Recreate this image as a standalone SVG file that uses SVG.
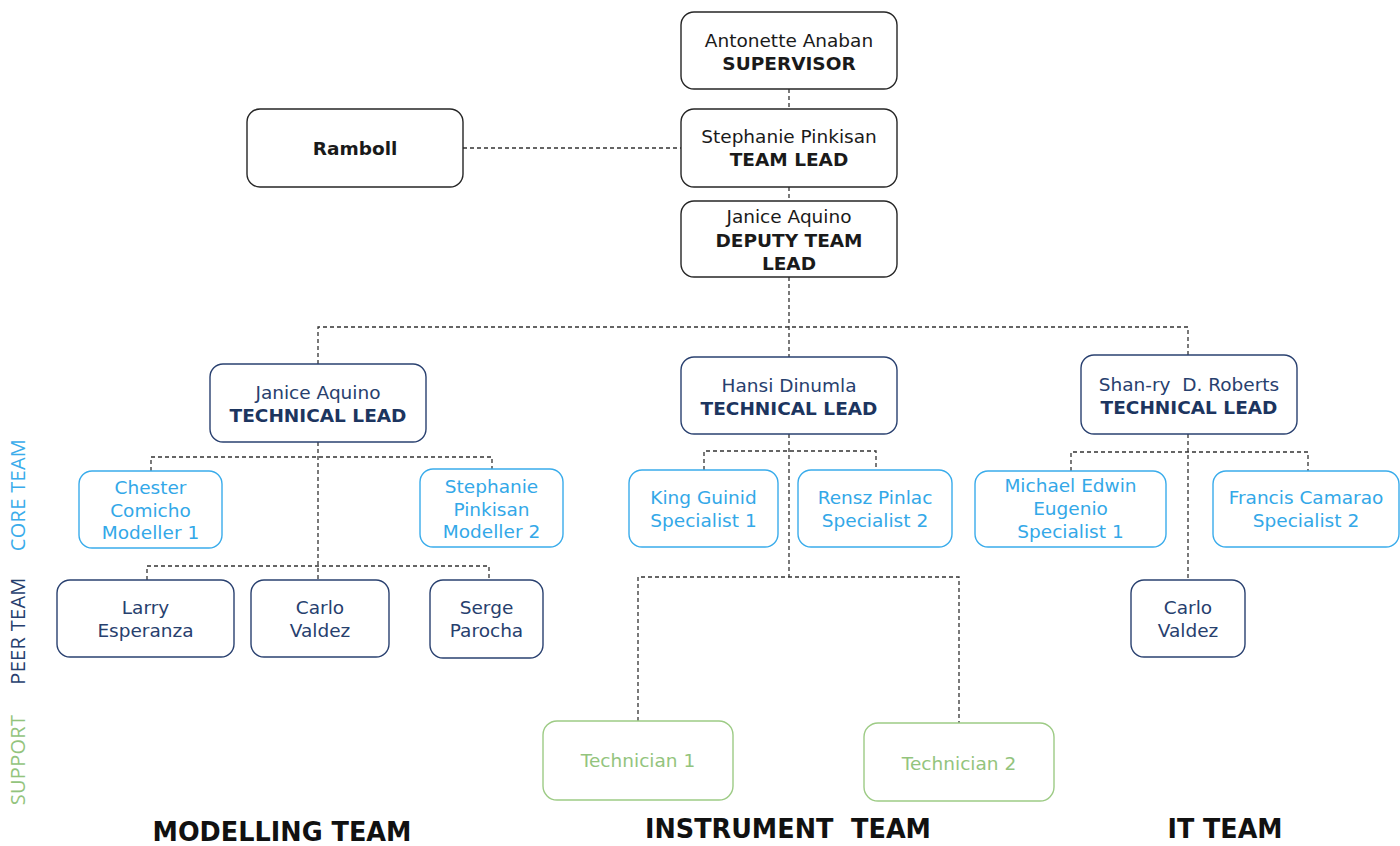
<svg xmlns="http://www.w3.org/2000/svg" width="1400" height="846" viewBox="0 0 1400 846">
  <style>
    .box { fill: #ffffff; stroke-width: 1.4; }
    .top { stroke: #262626; }
    .lead { stroke: #2a4170; }
    .core { stroke: #3aaceb; }
    .peer { stroke: #2a4170; }
    .sup { stroke: #9dcb85; }
    text { font-family: "DejaVu Sans", Verdana, sans-serif; font-size: 18.5px; text-anchor: middle; }
    .t-top { fill: #1a1a1a; }
    .t-lead { fill: #27406e; }
    .t-core { fill: #33a8e8; }
    .t-peer { fill: #27406e; }
    .t-sup { fill: #93c47d; }
    .b { font-weight: bold; }
    .lead-b { font-weight: bold; fill: #1c355f; }
    .conn { fill: none; stroke: #333333; stroke-width: 1.3; stroke-dasharray: 4 3; }
    .side { font-family: "Open Sans", "DejaVu Sans", sans-serif; font-size: 20px; font-weight: 400; letter-spacing: 0.3px; }
    .team { font-family: "DejaVu Sans", sans-serif; font-size: 26px; font-weight: bold; fill: #111111; }
  </style>

  <!-- connectors -->
  <g id="connectors">
    <path class="conn" d="M789 89 V109"/>
    <path class="conn" d="M789 187 V201"/>
    <path class="conn" d="M463 148 H681"/>
    <path class="conn" d="M789 277 V357"/>
    <path class="conn" d="M318 364 V327 H1188 V355"/>
    <path class="conn" d="M318 442 V580"/>
    <path class="conn" d="M151 471 V457 H492 V469"/>
    <path class="conn" d="M147 580 V566 H489 V580"/>
    <path class="conn" d="M789 434 V577"/>
    <path class="conn" d="M704 470 V451 H876 V470"/>
    <path class="conn" d="M638 721 V577 H959 V723"/>
    <path class="conn" d="M1188 434 V580"/>
    <path class="conn" d="M1071 471 V452 H1308 V471"/>
  </g>

  <!-- management -->
  <g id="supervisor">
    <rect class="box top" x="681" y="12" width="216" height="77" rx="13"/>
    <text class="t-top" x="789" y="47">Antonette Anaban</text>
    <text class="t-top b" x="789" y="70">SUPERVISOR</text>
  </g>
  <g id="ramboll">
    <rect class="box top" x="247" y="109" width="216" height="78" rx="13"/>
    <text class="t-top b" x="355" y="155">Ramboll</text>
  </g>
  <g id="team-lead">
    <rect class="box top" x="681" y="109" width="216" height="78" rx="13"/>
    <text class="t-top" x="789" y="143">Stephanie Pinkisan</text>
    <text class="t-top b" x="789" y="166">TEAM LEAD</text>
  </g>
  <g id="deputy-team-lead">
    <rect class="box top" x="681" y="201" width="216" height="76" rx="13"/>
    <text class="t-top" x="789" y="223">Janice Aquino</text>
    <text class="t-top b" x="789" y="247">DEPUTY TEAM</text>
    <text class="t-top b" x="789" y="270">LEAD</text>
  </g>

  <!-- technical leads -->
  <g id="tl-modelling">
    <rect class="box lead" x="210" y="364" width="216" height="78" rx="13"/>
    <text class="t-lead" x="318" y="399">Janice Aquino</text>
    <text class="lead-b" x="318" y="422">TECHNICAL LEAD</text>
  </g>
  <g id="tl-instrument">
    <rect class="box lead" x="681" y="357" width="216" height="77" rx="13"/>
    <text class="t-lead" x="789" y="392">Hansi Dinumla</text>
    <text class="lead-b" x="789" y="415">TECHNICAL LEAD</text>
  </g>
  <g id="tl-it">
    <rect class="box lead" x="1081" y="355" width="216" height="79" rx="13"/>
    <text class="t-lead" x="1189" y="391" xml:space="preserve">Shan-ry  D. Roberts</text>
    <text class="lead-b" x="1189" y="414">TECHNICAL LEAD</text>
  </g>

  <!-- modelling team -->
  <g id="chester">
    <rect class="box core" x="79" y="471" width="143" height="77" rx="13"/>
    <text class="t-core" x="150.5" y="494">Chester</text>
    <text class="t-core" x="150.5" y="517">Comicho</text>
    <text class="t-core" x="150.5" y="539">Modeller 1</text>
  </g>
  <g id="stephanie-modeller">
    <rect class="box core" x="420" y="469" width="143" height="78" rx="13"/>
    <text class="t-core" x="491.5" y="493">Stephanie</text>
    <text class="t-core" x="491.5" y="516">Pinkisan</text>
    <text class="t-core" x="491.5" y="538">Modeller 2</text>
  </g>
  <g id="larry">
    <rect class="box peer" x="57" y="580" width="177" height="77" rx="13"/>
    <text class="t-peer" x="145.5" y="614">Larry</text>
    <text class="t-peer" x="145.5" y="637">Esperanza</text>
  </g>
  <g id="carlo-modelling">
    <rect class="box peer" x="251" y="580" width="138" height="77" rx="13"/>
    <text class="t-peer" x="320" y="614">Carlo</text>
    <text class="t-peer" x="320" y="637">Valdez</text>
  </g>
  <g id="serge">
    <rect class="box peer" x="430" y="580" width="113" height="78" rx="13"/>
    <text class="t-peer" x="486.5" y="614">Serge</text>
    <text class="t-peer" x="486.5" y="637">Parocha</text>
  </g>

  <!-- instrument team -->
  <g id="king">
    <rect class="box core" x="629" y="470" width="149" height="77" rx="13"/>
    <text class="t-core" x="703.5" y="504">King Guinid</text>
    <text class="t-core" x="703.5" y="527">Specialist 1</text>
  </g>
  <g id="rensz">
    <rect class="box core" x="798" y="470" width="154" height="77" rx="13"/>
    <text class="t-core" x="875" y="504">Rensz Pinlac</text>
    <text class="t-core" x="875" y="527">Specialist 2</text>
  </g>
  <g id="technician-1">
    <rect class="box sup" x="543" y="721" width="190" height="79" rx="14"/>
    <text class="t-sup" x="638" y="767">Technician 1</text>
  </g>
  <g id="technician-2">
    <rect class="box sup" x="864" y="723" width="190" height="78" rx="14"/>
    <text class="t-sup" x="959" y="770">Technician 2</text>
  </g>

  <!-- IT team -->
  <g id="michael">
    <rect class="box core" x="975" y="471" width="191" height="76" rx="13"/>
    <text class="t-core" x="1070.5" y="492">Michael Edwin</text>
    <text class="t-core" x="1070.5" y="515">Eugenio</text>
    <text class="t-core" x="1070.5" y="538">Specialist 1</text>
  </g>
  <g id="francis">
    <rect class="box core" x="1213" y="471" width="186" height="76" rx="13"/>
    <text class="t-core" x="1306" y="504">Francis Camarao</text>
    <text class="t-core" x="1306" y="527">Specialist 2</text>
  </g>
  <g id="carlo-it">
    <rect class="box peer" x="1131" y="580" width="114" height="77" rx="13"/>
    <text class="t-peer" x="1188" y="614">Carlo</text>
    <text class="t-peer" x="1188" y="637">Valdez</text>
  </g>

  <!-- tier labels along the left edge -->
  <g id="tier-labels">
    <text class="side" fill="#3aaceb" transform="translate(25 495) rotate(-90)">CORE TEAM</text>
    <text class="side" fill="#27406e" transform="translate(25 631) rotate(-90)">PEER TEAM</text>
    <text class="side" fill="#93c47d" transform="translate(25 760) rotate(-90)">SUPPORT</text>
  </g>

  <!-- team titles -->
  <g id="team-titles">
    <text class="team" x="282" y="841" textLength="259" lengthAdjust="spacingAndGlyphs">MODELLING TEAM</text>
    <text class="team" x="788" y="838" textLength="286" lengthAdjust="spacingAndGlyphs" xml:space="preserve">INSTRUMENT  TEAM</text>
    <text class="team" x="1225" y="838" textLength="115" lengthAdjust="spacingAndGlyphs">IT TEAM</text>
  </g>
</svg>
